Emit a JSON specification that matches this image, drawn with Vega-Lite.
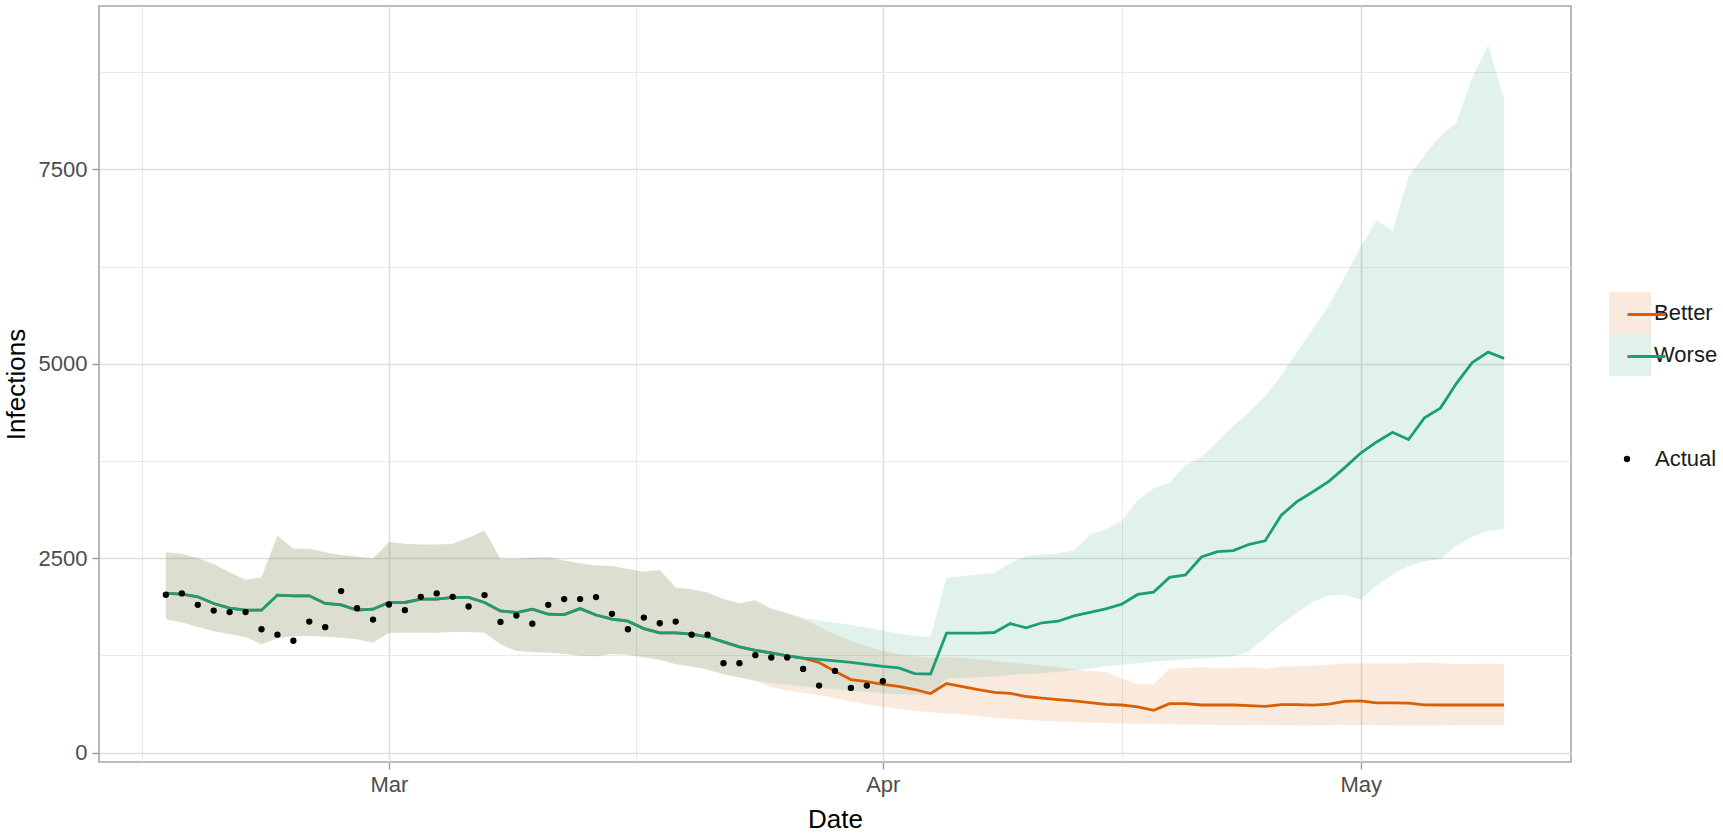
{
"$schema": "https://vega.github.io/schema/vega-lite/v6.json",
"width": 1472, "height": 756,
"autosize": {"type": "none"},
"padding": {"left": 99, "top": 6, "right": 152, "bottom": 73},
"background": "white",
"config": {
  "font": "Liberation Sans",
  "view": {"stroke": "#a6a6a6", "strokeWidth": 1.6},
  "axis": {"domain": false, "labelFontSize": 22, "labelColor": "#4d4d4d", "titleFontSize": 26, "titleFontWeight": "normal", "titleColor": "#000000", "tickColor": "#9a9a9a", "tickWidth": 1.4, "tickSize": 7, "labelOverlap": false, "labelFlush": false},
  "legend": {"labelFontSize": 22, "labelColor": "#1a1a1a", "padding": 0, "offset": 0}
},
"datasets": {
"scen": [
{"date":"2021-02-15","scenario":"Better","mean":2047,"lo":1716,"hi":2577},
{"date":"2021-02-16","scenario":"Better","mean":2039,"lo":1672,"hi":2556},
{"date":"2021-02-17","scenario":"Better","mean":2004,"lo":1616,"hi":2500},
{"date":"2021-02-18","scenario":"Better","mean":1918,"lo":1565,"hi":2427},
{"date":"2021-02-19","scenario":"Better","mean":1858,"lo":1522,"hi":2319},
{"date":"2021-02-20","scenario":"Better","mean":1832,"lo":1487,"hi":2224},
{"date":"2021-02-21","scenario":"Better","mean":1832,"lo":1393,"hi":2254},
{"date":"2021-02-22","scenario":"Better","mean":2026,"lo":1470,"hi":2793},
{"date":"2021-02-23","scenario":"Better","mean":2017,"lo":1496,"hi":2621},
{"date":"2021-02-24","scenario":"Better","mean":2017,"lo":1500,"hi":2621},
{"date":"2021-02-25","scenario":"Better","mean":1918,"lo":1491,"hi":2577},
{"date":"2021-02-26","scenario":"Better","mean":1901,"lo":1478,"hi":2543},
{"date":"2021-02-27","scenario":"Better","mean":1832,"lo":1457,"hi":2522},
{"date":"2021-02-28","scenario":"Better","mean":1845,"lo":1414,"hi":2492},
{"date":"2021-03-01","scenario":"Better","mean":1931,"lo":1543,"hi":2707},
{"date":"2021-03-02","scenario":"Better","mean":1931,"lo":1543,"hi":2686},
{"date":"2021-03-03","scenario":"Better","mean":1975,"lo":1543,"hi":2677},
{"date":"2021-03-04","scenario":"Better","mean":1975,"lo":1543,"hi":2677},
{"date":"2021-03-05","scenario":"Better","mean":1996,"lo":1552,"hi":2686},
{"date":"2021-03-06","scenario":"Better","mean":1996,"lo":1552,"hi":2763},
{"date":"2021-03-07","scenario":"Better","mean":1931,"lo":1543,"hi":2858},
{"date":"2021-03-08","scenario":"Better","mean":1823,"lo":1393,"hi":2492},
{"date":"2021-03-09","scenario":"Better","mean":1802,"lo":1306,"hi":2492},
{"date":"2021-03-10","scenario":"Better","mean":1845,"lo":1293,"hi":2505},
{"date":"2021-03-11","scenario":"Better","mean":1780,"lo":1284,"hi":2513},
{"date":"2021-03-12","scenario":"Better","mean":1776,"lo":1271,"hi":2470},
{"date":"2021-03-13","scenario":"Better","mean":1852,"lo":1245,"hi":2435},
{"date":"2021-03-14","scenario":"Better","mean":1770,"lo":1240,"hi":2405},
{"date":"2021-03-15","scenario":"Better","mean":1716,"lo":1270,"hi":2400},
{"date":"2021-03-16","scenario":"Better","mean":1690,"lo":1258,"hi":2360},
{"date":"2021-03-17","scenario":"Better","mean":1595,"lo":1224,"hi":2325},
{"date":"2021-03-18","scenario":"Better","mean":1540,"lo":1194,"hi":2350},
{"date":"2021-03-19","scenario":"Better","mean":1540,"lo":1138,"hi":2125},
{"date":"2021-03-20","scenario":"Better","mean":1523,"lo":1108,"hi":2100},
{"date":"2021-03-21","scenario":"Better","mean":1490,"lo":1065,"hi":2058},
{"date":"2021-03-22","scenario":"Better","mean":1425,"lo":1009,"hi":1975},
{"date":"2021-03-23","scenario":"Better","mean":1360,"lo":966,"hi":1920},
{"date":"2021-03-24","scenario":"Better","mean":1315,"lo":924,"hi":1959},
{"date":"2021-03-25","scenario":"Better","mean":1282,"lo":840,"hi":1850},
{"date":"2021-03-26","scenario":"Better","mean":1245,"lo":800,"hi":1790},
{"date":"2021-03-27","scenario":"Better","mean":1215,"lo":770,"hi":1720},
{"date":"2021-03-28","scenario":"Better","mean":1160,"lo":740,"hi":1620},
{"date":"2021-03-29","scenario":"Better","mean":1045,"lo":700,"hi":1520},
{"date":"2021-03-30","scenario":"Better","mean":940,"lo":660,"hi":1440},
{"date":"2021-03-31","scenario":"Better","mean":912,"lo":620,"hi":1370},
{"date":"2021-04-01","scenario":"Better","mean":878,"lo":590,"hi":1310},
{"date":"2021-04-02","scenario":"Better","mean":852,"lo":560,"hi":1270},
{"date":"2021-04-03","scenario":"Better","mean":812,"lo":540,"hi":1240},
{"date":"2021-04-04","scenario":"Better","mean":760,"lo":520,"hi":1220},
{"date":"2021-04-05","scenario":"Better","mean":888,"lo":505,"hi":1230},
{"date":"2021-04-06","scenario":"Better","mean":850,"lo":495,"hi":1220},
{"date":"2021-04-07","scenario":"Better","mean":810,"lo":470,"hi":1200},
{"date":"2021-04-08","scenario":"Better","mean":775,"lo":450,"hi":1180},
{"date":"2021-04-09","scenario":"Better","mean":762,"lo":435,"hi":1160},
{"date":"2021-04-10","scenario":"Better","mean":722,"lo":420,"hi":1140},
{"date":"2021-04-11","scenario":"Better","mean":700,"lo":410,"hi":1120},
{"date":"2021-04-12","scenario":"Better","mean":683,"lo":400,"hi":1100},
{"date":"2021-04-13","scenario":"Better","mean":666,"lo":395,"hi":1070},
{"date":"2021-04-14","scenario":"Better","mean":642,"lo":385,"hi":1050},
{"date":"2021-04-15","scenario":"Better","mean":620,"lo":380,"hi":1040},
{"date":"2021-04-16","scenario":"Better","mean":613,"lo":375,"hi":950},
{"date":"2021-04-17","scenario":"Better","mean":590,"lo":372,"hi":880},
{"date":"2021-04-18","scenario":"Better","mean":545,"lo":370,"hi":880},
{"date":"2021-04-19","scenario":"Better","mean":630,"lo":365,"hi":1080},
{"date":"2021-04-20","scenario":"Better","mean":630,"lo":360,"hi":1090},
{"date":"2021-04-21","scenario":"Better","mean":613,"lo":358,"hi":1100},
{"date":"2021-04-22","scenario":"Better","mean":613,"lo":356,"hi":1090},
{"date":"2021-04-23","scenario":"Better","mean":613,"lo":355,"hi":1090},
{"date":"2021-04-24","scenario":"Better","mean":605,"lo":355,"hi":1100},
{"date":"2021-04-25","scenario":"Better","mean":595,"lo":352,"hi":1080},
{"date":"2021-04-26","scenario":"Better","mean":618,"lo":352,"hi":1110},
{"date":"2021-04-27","scenario":"Better","mean":618,"lo":350,"hi":1110},
{"date":"2021-04-28","scenario":"Better","mean":610,"lo":350,"hi":1120},
{"date":"2021-04-29","scenario":"Better","mean":625,"lo":352,"hi":1130},
{"date":"2021-04-30","scenario":"Better","mean":660,"lo":355,"hi":1150},
{"date":"2021-05-01","scenario":"Better","mean":665,"lo":355,"hi":1150},
{"date":"2021-05-02","scenario":"Better","mean":640,"lo":352,"hi":1150},
{"date":"2021-05-03","scenario":"Better","mean":640,"lo":350,"hi":1150},
{"date":"2021-05-04","scenario":"Better","mean":638,"lo":350,"hi":1150},
{"date":"2021-05-05","scenario":"Better","mean":615,"lo":350,"hi":1160},
{"date":"2021-05-06","scenario":"Better","mean":613,"lo":350,"hi":1150},
{"date":"2021-05-07","scenario":"Better","mean":613,"lo":352,"hi":1140},
{"date":"2021-05-08","scenario":"Better","mean":613,"lo":352,"hi":1140},
{"date":"2021-05-09","scenario":"Better","mean":613,"lo":352,"hi":1145},
{"date":"2021-05-10","scenario":"Better","mean":613,"lo":352,"hi":1140},
{"date":"2021-02-15","scenario":"Worse","mean":2047,"lo":1716,"hi":2577},
{"date":"2021-02-16","scenario":"Worse","mean":2039,"lo":1672,"hi":2556},
{"date":"2021-02-17","scenario":"Worse","mean":2004,"lo":1616,"hi":2500},
{"date":"2021-02-18","scenario":"Worse","mean":1918,"lo":1565,"hi":2427},
{"date":"2021-02-19","scenario":"Worse","mean":1858,"lo":1522,"hi":2319},
{"date":"2021-02-20","scenario":"Worse","mean":1832,"lo":1487,"hi":2224},
{"date":"2021-02-21","scenario":"Worse","mean":1832,"lo":1393,"hi":2254},
{"date":"2021-02-22","scenario":"Worse","mean":2026,"lo":1470,"hi":2793},
{"date":"2021-02-23","scenario":"Worse","mean":2017,"lo":1496,"hi":2621},
{"date":"2021-02-24","scenario":"Worse","mean":2017,"lo":1500,"hi":2621},
{"date":"2021-02-25","scenario":"Worse","mean":1918,"lo":1491,"hi":2577},
{"date":"2021-02-26","scenario":"Worse","mean":1901,"lo":1478,"hi":2543},
{"date":"2021-02-27","scenario":"Worse","mean":1832,"lo":1457,"hi":2522},
{"date":"2021-02-28","scenario":"Worse","mean":1845,"lo":1414,"hi":2492},
{"date":"2021-03-01","scenario":"Worse","mean":1931,"lo":1543,"hi":2707},
{"date":"2021-03-02","scenario":"Worse","mean":1931,"lo":1543,"hi":2686},
{"date":"2021-03-03","scenario":"Worse","mean":1975,"lo":1543,"hi":2677},
{"date":"2021-03-04","scenario":"Worse","mean":1975,"lo":1543,"hi":2677},
{"date":"2021-03-05","scenario":"Worse","mean":1996,"lo":1552,"hi":2686},
{"date":"2021-03-06","scenario":"Worse","mean":1996,"lo":1552,"hi":2763},
{"date":"2021-03-07","scenario":"Worse","mean":1931,"lo":1543,"hi":2858},
{"date":"2021-03-08","scenario":"Worse","mean":1823,"lo":1393,"hi":2492},
{"date":"2021-03-09","scenario":"Worse","mean":1802,"lo":1306,"hi":2492},
{"date":"2021-03-10","scenario":"Worse","mean":1845,"lo":1293,"hi":2505},
{"date":"2021-03-11","scenario":"Worse","mean":1780,"lo":1284,"hi":2513},
{"date":"2021-03-12","scenario":"Worse","mean":1776,"lo":1271,"hi":2470},
{"date":"2021-03-13","scenario":"Worse","mean":1852,"lo":1245,"hi":2435},
{"date":"2021-03-14","scenario":"Worse","mean":1770,"lo":1240,"hi":2405},
{"date":"2021-03-15","scenario":"Worse","mean":1716,"lo":1270,"hi":2400},
{"date":"2021-03-16","scenario":"Worse","mean":1690,"lo":1258,"hi":2360},
{"date":"2021-03-17","scenario":"Worse","mean":1595,"lo":1224,"hi":2325},
{"date":"2021-03-18","scenario":"Worse","mean":1540,"lo":1194,"hi":2350},
{"date":"2021-03-19","scenario":"Worse","mean":1540,"lo":1138,"hi":2125},
{"date":"2021-03-20","scenario":"Worse","mean":1523,"lo":1108,"hi":2100},
{"date":"2021-03-21","scenario":"Worse","mean":1490,"lo":1065,"hi":2058},
{"date":"2021-03-22","scenario":"Worse","mean":1425,"lo":1009,"hi":1975},
{"date":"2021-03-23","scenario":"Worse","mean":1360,"lo":966,"hi":1920},
{"date":"2021-03-24","scenario":"Worse","mean":1315,"lo":924,"hi":1959},
{"date":"2021-03-25","scenario":"Worse","mean":1282,"lo":893,"hi":1850},
{"date":"2021-03-26","scenario":"Worse","mean":1245,"lo":875,"hi":1800},
{"date":"2021-03-27","scenario":"Worse","mean":1215,"lo":851,"hi":1730},
{"date":"2021-03-28","scenario":"Worse","mean":1200,"lo":835,"hi":1700},
{"date":"2021-03-29","scenario":"Worse","mean":1180,"lo":815,"hi":1670},
{"date":"2021-03-30","scenario":"Worse","mean":1160,"lo":795,"hi":1640},
{"date":"2021-03-31","scenario":"Worse","mean":1135,"lo":780,"hi":1610},
{"date":"2021-04-01","scenario":"Worse","mean":1110,"lo":765,"hi":1570},
{"date":"2021-04-02","scenario":"Worse","mean":1090,"lo":755,"hi":1530},
{"date":"2021-04-03","scenario":"Worse","mean":1017,"lo":745,"hi":1500},
{"date":"2021-04-04","scenario":"Worse","mean":1012,"lo":740,"hi":1490},
{"date":"2021-04-05","scenario":"Worse","mean":1538,"lo":950,"hi":2247},
{"date":"2021-04-06","scenario":"Worse","mean":1538,"lo":960,"hi":2268},
{"date":"2021-04-07","scenario":"Worse","mean":1538,"lo":970,"hi":2290},
{"date":"2021-04-08","scenario":"Worse","mean":1545,"lo":980,"hi":2311},
{"date":"2021-04-09","scenario":"Worse","mean":1660,"lo":1000,"hi":2440},
{"date":"2021-04-10","scenario":"Worse","mean":1605,"lo":1010,"hi":2526},
{"date":"2021-04-11","scenario":"Worse","mean":1670,"lo":1020,"hi":2547},
{"date":"2021-04-12","scenario":"Worse","mean":1690,"lo":1040,"hi":2560},
{"date":"2021-04-13","scenario":"Worse","mean":1758,"lo":1060,"hi":2600},
{"date":"2021-04-14","scenario":"Worse","mean":1805,"lo":1080,"hi":2805},
{"date":"2021-04-15","scenario":"Worse","mean":1850,"lo":1110,"hi":2870},
{"date":"2021-04-16","scenario":"Worse","mean":1909,"lo":1130,"hi":2980},
{"date":"2021-04-17","scenario":"Worse","mean":2034,"lo":1150,"hi":3250},
{"date":"2021-04-18","scenario":"Worse","mean":2065,"lo":1170,"hi":3400},
{"date":"2021-04-19","scenario":"Worse","mean":2253,"lo":1185,"hi":3470},
{"date":"2021-04-20","scenario":"Worse","mean":2285,"lo":1200,"hi":3700},
{"date":"2021-04-21","scenario":"Worse","mean":2516,"lo":1210,"hi":3800},
{"date":"2021-04-22","scenario":"Worse","mean":2585,"lo":1220,"hi":4000},
{"date":"2021-04-23","scenario":"Worse","mean":2598,"lo":1240,"hi":4200},
{"date":"2021-04-24","scenario":"Worse","mean":2679,"lo":1300,"hi":4380},
{"date":"2021-04-25","scenario":"Worse","mean":2723,"lo":1480,"hi":4580},
{"date":"2021-04-26","scenario":"Worse","mean":3050,"lo":1650,"hi":4850},
{"date":"2021-04-27","scenario":"Worse","mean":3228,"lo":1800,"hi":5150},
{"date":"2021-04-28","scenario":"Worse","mean":3355,"lo":1940,"hi":5450},
{"date":"2021-04-29","scenario":"Worse","mean":3488,"lo":2020,"hi":5750},
{"date":"2021-04-30","scenario":"Worse","mean":3665,"lo":2030,"hi":6120},
{"date":"2021-05-01","scenario":"Worse","mean":3852,"lo":1970,"hi":6500},
{"date":"2021-05-02","scenario":"Worse","mean":3995,"lo":2150,"hi":6850},
{"date":"2021-05-03","scenario":"Worse","mean":4120,"lo":2290,"hi":6705},
{"date":"2021-05-04","scenario":"Worse","mean":4025,"lo":2400,"hi":7400},
{"date":"2021-05-05","scenario":"Worse","mean":4305,"lo":2460,"hi":7680},
{"date":"2021-05-06","scenario":"Worse","mean":4430,"lo":2490,"hi":7930},
{"date":"2021-05-07","scenario":"Worse","mean":4745,"lo":2660,"hi":8100},
{"date":"2021-05-08","scenario":"Worse","mean":5015,"lo":2780,"hi":8680},
{"date":"2021-05-09","scenario":"Worse","mean":5150,"lo":2850,"hi":9100},
{"date":"2021-05-10","scenario":"Worse","mean":5070,"lo":2880,"hi":8400}
],
"actual": [
{"date":"2021-02-15","series":"Actual","value":2030},
{"date":"2021-02-16","series":"Actual","value":2047},
{"date":"2021-02-17","series":"Actual","value":1901},
{"date":"2021-02-18","series":"Actual","value":1827},
{"date":"2021-02-19","series":"Actual","value":1807},
{"date":"2021-02-20","series":"Actual","value":1807},
{"date":"2021-02-21","series":"Actual","value":1587},
{"date":"2021-02-22","series":"Actual","value":1517},
{"date":"2021-02-23","series":"Actual","value":1439},
{"date":"2021-02-24","series":"Actual","value":1685},
{"date":"2021-02-25","series":"Actual","value":1613},
{"date":"2021-02-26","series":"Actual","value":2078},
{"date":"2021-02-27","series":"Actual","value":1858},
{"date":"2021-02-28","series":"Actual","value":1711},
{"date":"2021-03-01","series":"Actual","value":1905},
{"date":"2021-03-02","series":"Actual","value":1832},
{"date":"2021-03-03","series":"Actual","value":2004},
{"date":"2021-03-04","series":"Actual","value":2047},
{"date":"2021-03-05","series":"Actual","value":2004},
{"date":"2021-03-06","series":"Actual","value":1879},
{"date":"2021-03-07","series":"Actual","value":2026},
{"date":"2021-03-08","series":"Actual","value":1681},
{"date":"2021-03-09","series":"Actual","value":1763},
{"date":"2021-03-10","series":"Actual","value":1659},
{"date":"2021-03-11","series":"Actual","value":1901},
{"date":"2021-03-12","series":"Actual","value":1975},
{"date":"2021-03-13","series":"Actual","value":1975},
{"date":"2021-03-14","series":"Actual","value":2000},
{"date":"2021-03-15","series":"Actual","value":1785},
{"date":"2021-03-16","series":"Actual","value":1587},
{"date":"2021-03-17","series":"Actual","value":1737},
{"date":"2021-03-18","series":"Actual","value":1664},
{"date":"2021-03-19","series":"Actual","value":1685},
{"date":"2021-03-20","series":"Actual","value":1517},
{"date":"2021-03-21","series":"Actual","value":1517},
{"date":"2021-03-22","series":"Actual","value":1151},
{"date":"2021-03-23","series":"Actual","value":1151},
{"date":"2021-03-24","series":"Actual","value":1254},
{"date":"2021-03-25","series":"Actual","value":1224},
{"date":"2021-03-26","series":"Actual","value":1224},
{"date":"2021-03-27","series":"Actual","value":1077},
{"date":"2021-03-28","series":"Actual","value":862},
{"date":"2021-03-29","series":"Actual","value":1051},
{"date":"2021-03-30","series":"Actual","value":832},
{"date":"2021-03-31","series":"Actual","value":862},
{"date":"2021-04-01","series":"Actual","value":918}
]
},
"layer": [
{
  "data": {"name": "scen"},
  "mark": {"type": "area", "opacity": 0.13},
  "encoding": {
    "x": {"field": "date", "type": "temporal",
      "scale": {"type": "utc", "nice": false,
        "domain": [{"year": 2021, "month": 2, "date": 10, "hours": 19, "minutes": 12, "utc": true}, {"year": 2021, "month": 5, "date": 14, "hours": 4, "minutes": 48, "utc": true}]},
      "axis": {"title": "Date",
        "values": [{"year": 2021, "month": 2, "date": 13, "hours": 12, "utc": true}, {"year": 2021, "month": 3, "date": 1, "utc": true}, {"year": 2021, "month": 3, "date": 16, "hours": 12, "utc": true}, {"year": 2021, "month": 4, "date": 1, "utc": true}, {"year": 2021, "month": 4, "date": 16, "utc": true}, {"year": 2021, "month": 5, "date": 1, "utc": true}],
        "labelExpr": "utcdate(datum.value) == 1 ? utcFormat(datum.value, '%b') : ''",
        "labelPadding": 5, "titlePadding": 11,
        "gridColor": {"condition": {"test": "utcdate(datum.value) == 1", "value": "#dedede"}, "value": "#e8e8e8"},
        "gridWidth": {"condition": {"test": "utcdate(datum.value) == 1", "value": 1.6}, "value": 0.9},
        "tickOpacity": {"condition": {"test": "utcdate(datum.value) == 1", "value": 1}, "value": 0}}},
    "y": {"field": "lo", "type": "quantitative",
      "scale": {"domain": [-120, 9600], "nice": false, "zero": false},
      "axis": {"title": "Infections", "values": [0, 1250, 2500, 3750, 5000, 6250, 7500, 8750], "format": "d",
        "labelExpr": "datum.value % 2500 == 0 ? datum.label : ''",
        "labelPadding": 5, "titlePadding": 9,
        "gridColor": {"condition": {"test": "datum.value % 2500 == 0", "value": "#dedede"}, "value": "#e8e8e8"},
        "gridWidth": {"condition": {"test": "datum.value % 2500 == 0", "value": 1.6}, "value": 0.9},
        "tickOpacity": {"condition": {"test": "datum.value % 2500 == 0", "value": 1}, "value": 0}}},
    "y2": {"field": "hi"},
    "fill": {"field": "scenario", "type": "nominal",
      "scale": {"domain": ["Better", "Worse"], "range": ["#D95F02", "#1B9E77"]},
      "legend": {"title": null, "orient": "none", "legendX": 1510, "legendY": 286, "symbolType": "square", "symbolSize": 1764, "symbolStrokeWidth": 0, "rowPadding": 0, "labelOffset": 3}}
  }
},
{
  "data": {"name": "scen"},
  "mark": {"type": "line", "strokeWidth": 2.8},
  "encoding": {
    "x": {"field": "date", "type": "temporal"},
    "y": {"field": "mean", "type": "quantitative"},
    "stroke": {"field": "scenario", "type": "nominal",
      "scale": {"range": ["#D95F02", "#1B9E77"]},
      "legend": {"title": null, "orient": "none", "legendX": 1527, "legendY": 288, "symbolType": "stroke", "symbolSize": 1444, "symbolStrokeWidth": 2.8, "rowPadding": 10, "labelExpr": "''", "labelOffset": 0}}
  }
},
{
  "data": {"name": "actual"},
  "mark": {"type": "point", "filled": true, "color": "#000000", "size": 40, "opacity": 1},
  "encoding": {
    "x": {"field": "date", "type": "temporal"},
    "y": {"field": "value", "type": "quantitative"},
    "shape": {"field": "series", "type": "nominal",
      "scale": {"range": ["circle"]},
      "legend": {"title": null, "orient": "none", "legendX": 1517, "legendY": 442, "symbolSize": 40, "symbolFillColor": "#000000", "symbolStrokeWidth": 0, "labelOffset": 17}}
  }
}
]
}
